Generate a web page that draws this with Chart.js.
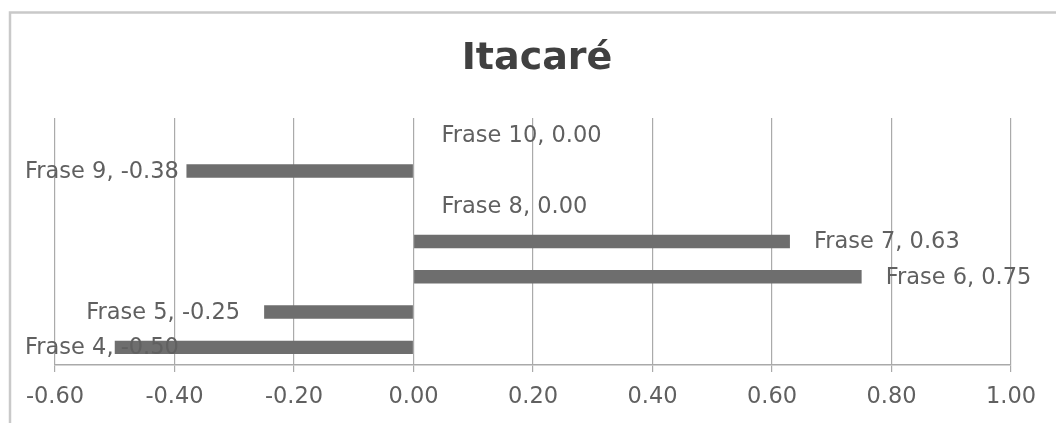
<!DOCTYPE html>
<html>
<head>
<meta charset="utf-8">
<script src="https://cdn.jsdelivr.net/npm/chart.js@4/dist/chart.umd.min.js"></script>
<style>
  html, body { margin: 0; padding: 0; background: #ffffff; }
  #wrap { width: 1056px; height: 423px; }
</style>
</head>
<body>
<div id="wrap"><canvas id="c" width="1056" height="423"></canvas></div>
<script>
// Sentence scores for Itacaré (bottom to top)
const categories = ['Frase 4', 'Frase 5', 'Frase 6', 'Frase 7', 'Frase 8', 'Frase 9', 'Frase 10'];
const scores = [-0.50, -0.25, 0.75, 0.63, 0.00, -0.38, 0.00];
const titleText = 'Itacaré';
const xMin = -0.6, xMax = 1.0, xStep = 0.2;

const FONT = 'DejaVu Sans';
const TEXT = '#606060';

// Frame around the whole chart area
const framePlugin = {
  id: 'frame',
  beforeDraw(chart) {
    const ctx = chart.ctx;
    ctx.save();
    ctx.fillStyle = '#ffffff';
    ctx.fillRect(0, 0, chart.width, chart.height);
    ctx.strokeStyle = '#c9c9c9';
    ctx.lineWidth = 2.5;
    ctx.strokeRect(10, 12.5, 1200, 600);
    ctx.restore();
  }
};

// Centered bold title
const titlePlugin = {
  id: 'titleText',
  afterDraw(chart) {
    const ctx = chart.ctx;
    ctx.save();
    ctx.font = 'bold 38px "' + FONT + '"';
    ctx.fillStyle = '#404040';
    ctx.textAlign = 'center';
    ctx.textBaseline = 'middle';
    ctx.fillText(titleText, 537, 59);
    ctx.restore();
  }
};

// "Category, value" labels at the outer end of each bar
const labelPlugin = {
  id: 'barLabels',
  afterDatasetsDraw(chart) {
    const ctx = chart.ctx;
    const meta = chart.getDatasetMeta(0);
    ctx.save();
    ctx.font = '22.5px "' + FONT + '"';
    ctx.fillStyle = TEXT;
    ctx.textBaseline = 'middle';
    const minLeft = 25;
    meta.data.forEach((bar, i) => {
      const v = scores[i];
      const txt = categories[i] + ', ' + v.toFixed(2);
      const w = ctx.measureText(txt).width;
      let x;
      if (v < 0) {
        x = bar.x - 24 - w;
        if (x < minLeft) x = minLeft;
      } else if (v === 0) {
        x = bar.x + 28;
      } else {
        x = bar.x + 24;
      }
      ctx.textAlign = 'left';
      ctx.fillText(txt, x, bar.y + 1);
    });
    ctx.restore();
  }
};

new Chart(document.getElementById('c'), {
  type: 'bar',
  data: {
    labels: categories,
    datasets: [{
      data: scores,
      backgroundColor: '#6e6e6e',
      borderWidth: 0,
      categoryPercentage: 1.0,
      barPercentage: 0.38
    }]
  },
  options: {
    indexAxis: 'y',
    responsive: false,
    animation: false,
    devicePixelRatio: 1,
    layout: { padding: { left: 55, right: 45, top: 118, bottom: 0 } },
    plugins: {
      legend: { display: false },
      title: { display: false },
      tooltip: { enabled: false }
    },
    scales: {
      x: {
        type: 'linear',
        min: xMin,
        max: xMax,
        afterFit(scale) { scale.height = 58; },
        ticks: {
          stepSize: xStep,
          color: TEXT,
          font: { family: FONT, size: 22.5 },
          padding: 12,
          callback: v => Number(v).toFixed(2)
        },
        grid: {
          color: '#aaaaaa',
          lineWidth: 1.2,
          tickLength: 7,
          drawTicks: true
        },
        border: { display: true, color: '#aaaaaa', width: 1.5 }
      },
      y: {
        type: 'category',
        reverse: true,
        display: false
      }
    }
  },
  plugins: [framePlugin, titlePlugin, labelPlugin]
});
</script>
</body>
</html>
